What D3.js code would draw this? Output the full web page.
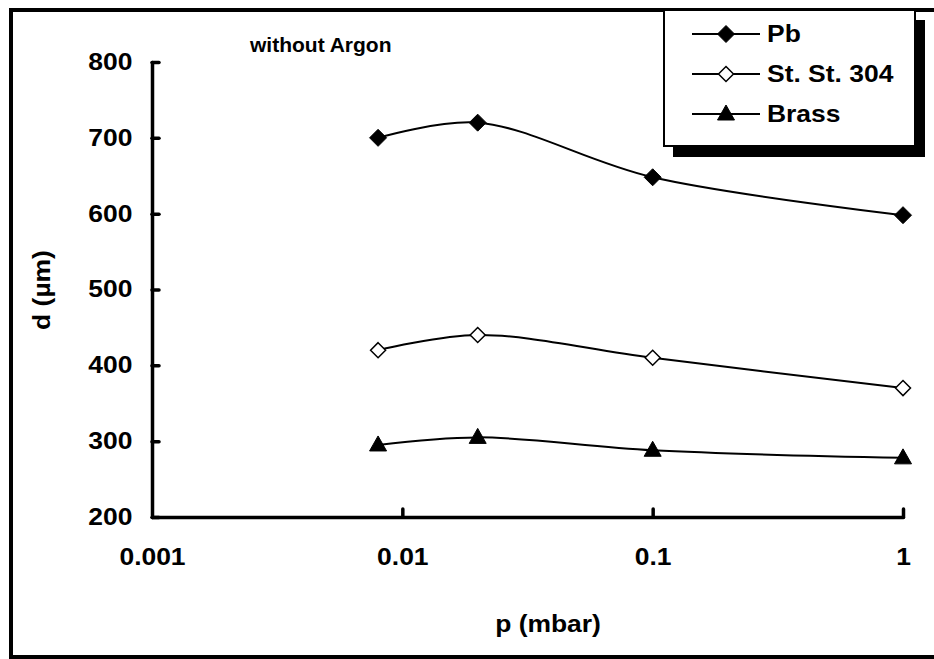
<!DOCTYPE html>
<html>
<head>
<meta charset="utf-8">
<script src="https://cdn.jsdelivr.net/npm/d3@7"></script>
<style>
  body { margin: 0; background: #fff; }
  text { font-family: "Liberation Sans", Arial, sans-serif; font-weight: bold; fill: #000; }
</style>
</head>
<body>
<script>
var w = 934;
var h = 659;

// data
var pressure = [0.008, 0.02, 0.1, 1];
var pbValues = [700, 720, 648, 598];
var stValues = [420, 440, 410, 370];
var brassValues = [295, 305, 288, 278];
var seriesNames = ["Pb", "St. St. 304", "Brass"];
var xTicks = [0.001, 0.01, 0.1, 1];
var xTickLabels = ["0.001", "0.01", "0.1", "1"];
var yTicks = [200, 300, 400, 500, 600, 700, 800];

var stretch = 1.15; // the fonts in the picture are a bit wide

var svg = d3.select("body")
    .append("svg")
    .attr("width", w)
    .attr("height", h);

// outer frame (right side runs off the picture)
svg.append("path")
    .attr("d", "M945,10 L11,10 L11,657 L945,657")
    .attr("fill", "none")
    .attr("stroke", "#000")
    .attr("stroke-width", 4);

var xScale = d3.scaleLog()
    .domain([0.001, 1])
    .range([152, 903]);
var yScale = d3.scaleLinear()
    .domain([200, 800])
    .range([517, 62]);

var xAxis = d3.axisBottom(xScale)
    .tickValues(xTicks)
    .tickFormat(function(d, i) { return xTickLabels[i]; })
    .tickSizeInner(-8)
    .tickSizeOuter(0)
    .tickPadding(32);
var gx = svg.append("g")
    .attr("transform", "translate(0," + yScale(200) + ")")
    .call(xAxis);

var yAxis = d3.axisLeft(yScale)
    .tickValues(yTicks)
    .tickSizeInner(-7)
    .tickSizeOuter(0)
    .tickPadding(17);
var gy = svg.append("g")
    .attr("transform", "translate(" + xScale(0.001) + ",0)")
    .call(yAxis);

[gx, gy].forEach(function(g) {
    g.select(".domain").attr("stroke-width", 3.5).attr("stroke-linecap", "round");
    g.selectAll(".tick line").attr("stroke-width", 3.5).attr("stroke-linecap", "round");
    g.selectAll(".tick text")
        .attr("font-size", "23px")
        .attr("font-family", "Liberation Sans, Arial, sans-serif")
        .attr("font-weight", "bold")
        .attr("transform", "scale(" + stretch + ",1)");
});
gx.select(".tick line").remove(); // 0.001 sits on the y axis

// lines
var series = [
    { name: seriesNames[0], values: pbValues, marker: "diamond", fill: "#000" },
    { name: seriesNames[1], values: stValues, marker: "diamond", fill: "#fff" },
    { name: seriesNames[2], values: brassValues, marker: "triangle", fill: "#000" }
];

var line = d3.line()
    .x(function(d) { return xScale(d[0]); })
    .y(function(d) { return yScale(d[1]); })
    .curve(d3.curveCatmullRom.alpha(0.5));

function markerPath(type, open) {
    if (type == "triangle") return "M0,-9 L8.5,6 L-8.5,6 Z";
    var r = open ? 7.5 : 8.5;
    return "M0," + (-r) + " L" + r + ",0 L0," + r + " L" + (-r) + ",0 Z";
}

series.forEach(function(s) {
    var pts = pressure.map(function(p, i) { return [p, s.values[i]]; });
    svg.append("path")
        .attr("d", line(pts))
        .attr("fill", "none")
        .attr("stroke", "#000")
        .attr("stroke-width", 2);
    svg.selectAll(null)
        .data(pts)
        .enter()
        .append("path")
        .attr("d", markerPath(s.marker, s.fill == "#fff"))
        .attr("transform", function(d) { return "translate(" + xScale(d[0]) + "," + yScale(d[1]) + ")"; })
        .attr("fill", s.fill)
        .attr("stroke", "#000")
        .attr("stroke-width", s.fill == "#fff" ? 1.5 : 1);
});

// titles
svg.append("text")
    .attr("x", 250)
    .attr("y", 52)
    .attr("font-size", "21px")
    .text("without Argon");

svg.append("text")
    .attr("transform", "translate(548,632) scale(" + stretch + ",1)")
    .attr("text-anchor", "middle")
    .attr("font-size", "23px")
    .text("p (mbar)");

svg.append("text")
    .attr("transform", "translate(50,290) rotate(-90) scale(" + stretch + ",1)")
    .attr("text-anchor", "middle")
    .attr("font-size", "23px")
    .text("d (\u00b5m)");

// legend with shadow
var legend = svg.append("g");
legend.append("rect")
    .attr("x", 673).attr("y", 20)
    .attr("width", 252).attr("height", 137)
    .attr("fill", "#000");
legend.append("rect")
    .attr("x", 664).attr("y", 10)
    .attr("width", 251).attr("height", 136)
    .attr("fill", "#fff")
    .attr("stroke", "#000")
    .attr("stroke-width", 2);

series.forEach(function(s, i) {
    var cy = 34 + i * 40;
    legend.append("line")
        .attr("x1", 692).attr("x2", 760)
        .attr("y1", cy).attr("y2", cy)
        .attr("stroke", "#000")
        .attr("stroke-width", 2);
    legend.append("path")
        .attr("d", markerPath(s.marker, s.fill == "#fff"))
        .attr("transform", "translate(726," + cy + ")")
        .attr("fill", s.fill)
        .attr("stroke", "#000")
        .attr("stroke-width", s.fill == "#fff" ? 1.5 : 1);
    legend.append("text")
        .attr("transform", "translate(767," + (cy + 8) + ") scale(" + stretch + ",1)")
        .attr("font-size", "23px")
        .text(s.name);
});
</script>
</body>
</html>
